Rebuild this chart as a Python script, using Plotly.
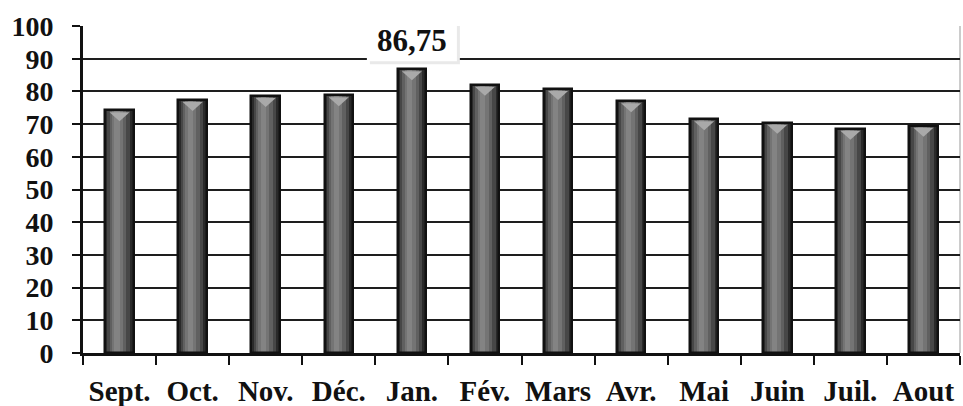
import plotly.graph_objects as go

# Monthly values (September to August)
months = ["Sept.", "Oct.", "Nov.", "Déc.", "Jan.", "Fév.", "Mars", "Avr.", "Mai", "Juin", "Juil.", "Aout"]
values = [74.2, 77.4, 78.6, 78.8, 86.75, 82.0, 80.7, 77.0, 71.5, 70.4, 68.6, 69.5]
y_ticks = [0, 10, 20, 30, 40, 50, 60, 70, 80, 90, 100]

highlight_month = "Jan."
highlight_value = values[months.index(highlight_month)]

SERIF = "Liberation Serif"

fig = go.Figure()

# Cylinder-like shading: stacked overlay layers, lighter towards the left of centre
layers = [
    (0.39, -0.195, "#2a2a2a"),
    (0.31, -0.165, "#474747"),
    (0.23, -0.135, "#606060"),
    (0.15, -0.100, "#747474"),
    (0.07, -0.070, "#838383"),
]
for w, off, col in layers:
    fig.add_trace(go.Bar(
        x=months, y=values, width=w, offset=off,
        marker=dict(color=col, line=dict(width=0)),
        hoverinfo="skip", showlegend=False,
    ))

# Outline on top of the shading
fig.add_trace(go.Bar(
    x=months, y=values, width=0.39, offset=-0.195,
    marker=dict(color="rgba(0,0,0,0)", line=dict(color="#111111", width=2.5)),
    showlegend=False,
))

# Light cap triangle at the top of every bar
shapes = []
for m, v in zip(months, values):
    shapes.append(dict(
        type="path", xref="x", yref="y",
        xsizemode="pixel", ysizemode="pixel",
        xanchor=m, yanchor=v,
        path="M -10,-2 L 10,-2 L 0,-11 Z",
        fillcolor="#a9a9a9", line=dict(width=0), layer="above",
    ))

# Light right border of the plot area
shapes.append(dict(
    type="line", xref="x domain", yref="y domain",
    x0=1, x1=1, y0=0, y1=1,
    line=dict(color="#bbbbbb", width=1.5), layer="below",
))

# White label box (with a soft shadow) above the peak bar
box_common = dict(type="rect", xref="x", yref="y",
                  xsizemode="pixel", ysizemode="pixel",
                  xanchor=highlight_month, yanchor=highlight_value,
                  line=dict(width=0), layer="above")
shapes.append(dict(box_common, x0=-42, x1=48, y0=5, y1=51, fillcolor="#e9e9e9"))
shapes.append(dict(box_common, x0=-45, x1=45, y0=8, y1=54, fillcolor="white"))

fig.update_layout(
    width=963, height=406,
    margin=dict(l=83, r=3, t=26, b=53),
    paper_bgcolor="white", plot_bgcolor="white",
    barmode="overlay", bargap=0,
    shapes=shapes,
    font=dict(family=SERIF, size=28, color="#111111"),
)

fig.update_xaxes(
    type="category", categoryorder="array", categoryarray=months,
    tickson="boundaries", tickangle=0, automargin=False,
    ticks="outside", ticklen=9, tickwidth=2, tickcolor="#111111",
    showline=True, linecolor="#111111", linewidth=3,
    showgrid=False, zeroline=False,
    tickfont=dict(family=SERIF, size=29, color="#111111", weight="bold"),
    ticklabelstandoff=10,
)

fig.update_yaxes(
    range=[0, 100], tickvals=y_ticks, ticktext=[str(t) for t in y_ticks],
    automargin=False,
    ticks="outside", ticklen=8, tickwidth=2, tickcolor="#111111",
    showline=True, linecolor="#111111", linewidth=3,
    showgrid=True, gridcolor="#1e1e1e", gridwidth=2,
    zeroline=False,
    tickfont=dict(family=SERIF, size=28, color="#111111", weight="bold"),
    ticklabelstandoff=13,
)

# Value label for the peak month
label_text = f"{highlight_value:.2f}".replace(".", ",")
fig.add_annotation(
    x=highlight_month, y=highlight_value, yanchor="middle", yshift=29,
    text=label_text, showarrow=False,
    font=dict(family=SERIF, size=31, color="#111111", weight="bold"),
)

fig.write_html("out.html")
